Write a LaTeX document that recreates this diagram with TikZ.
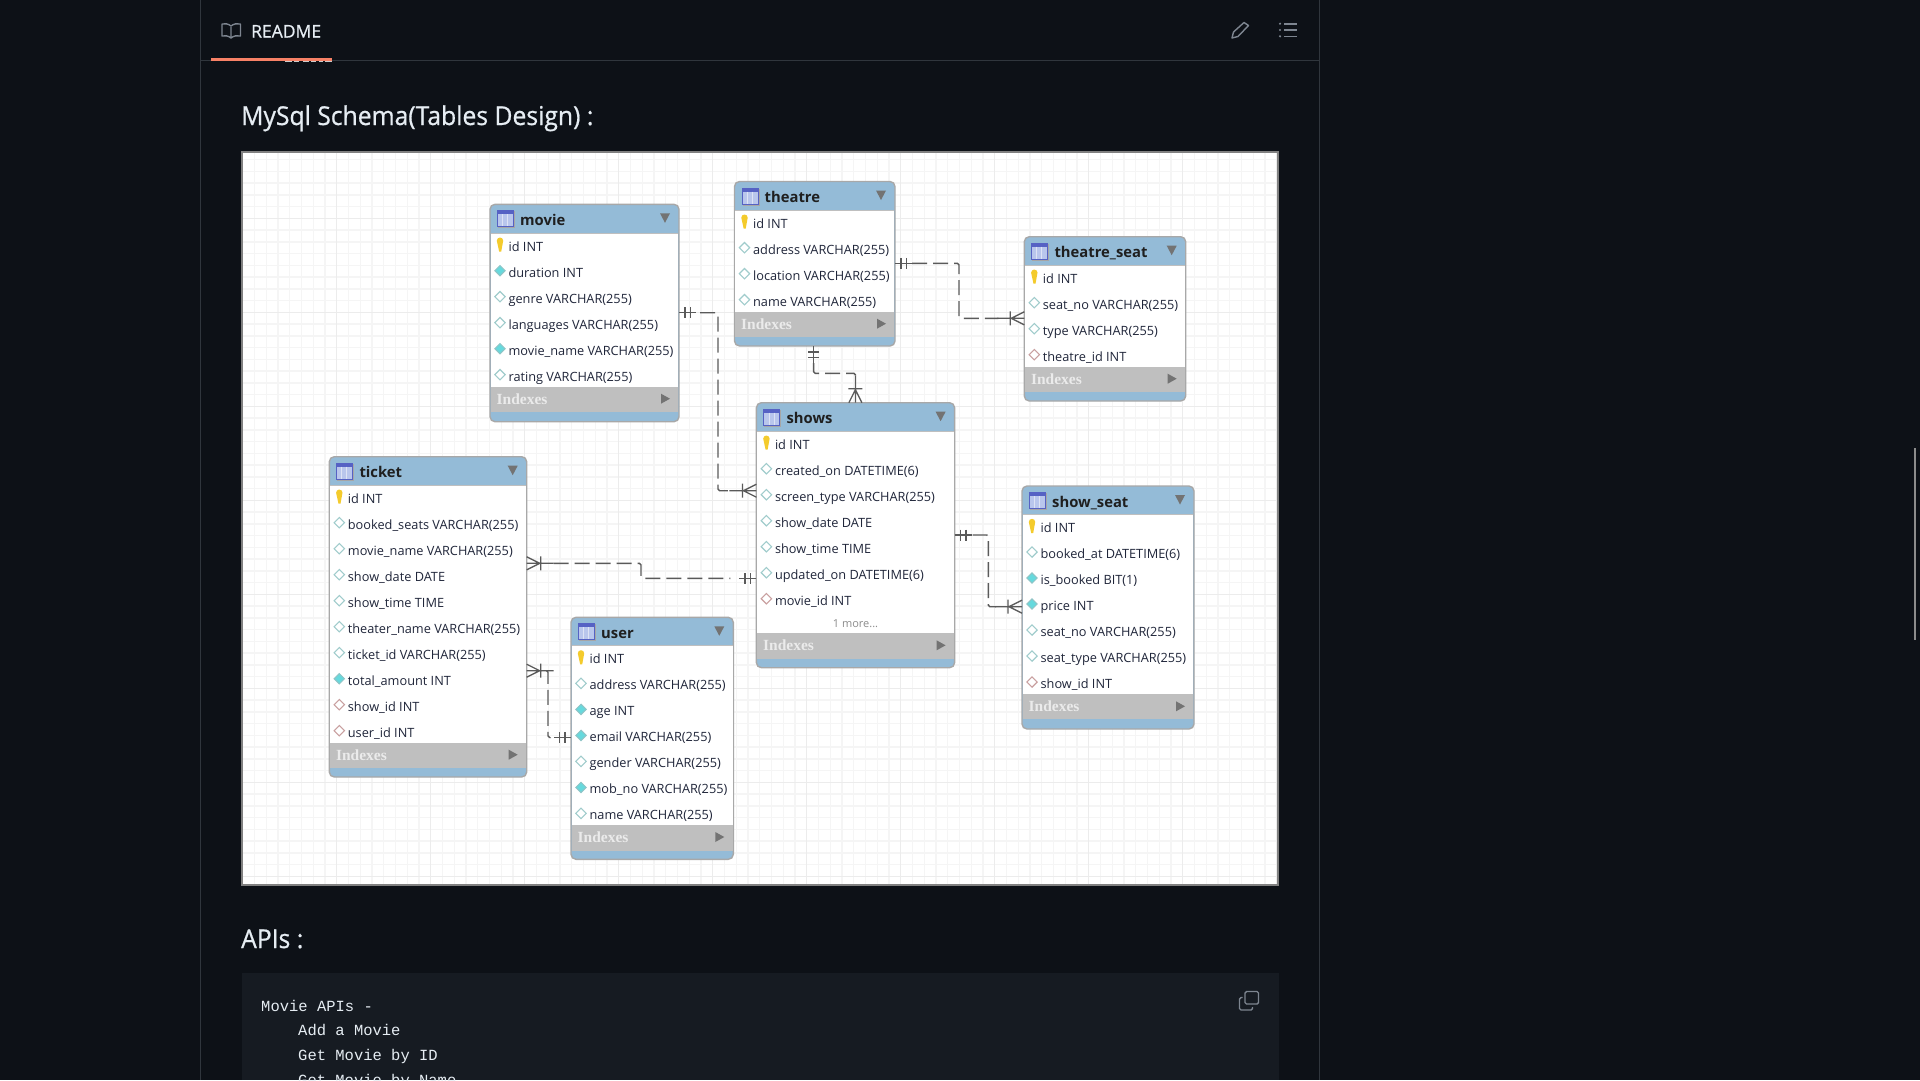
\documentclass[tikz,border=0pt]{standalone}
\usepackage{fontspec}
\usetikzlibrary{calc}
\setmainfont{Open Sans}
\newfontfamily\uifont[FakeBold=0.7]{Open Sans}
\newfontfamily\headfont[FakeBold=0.7,FakeStretch=0.95]{Open Sans}
\newfontfamily\serifb{Liberation Serif Bold}
\newfontfamily\monof{Liberation Mono}
\definecolor{pagebg}{HTML}{0D1117}
\definecolor{codebg}{HTML}{161B22}
\definecolor{rule}{HTML}{30363D}
\definecolor{accent}{HTML}{F78166}
\definecolor{ink}{HTML}{E6EDF3}
\definecolor{iconc}{HTML}{7D8590}
\definecolor{headblue}{HTML}{94BBD7}
\definecolor{frameg}{HTML}{A8A8A8}
\definecolor{idxg}{HTML}{BFBFBF}
\definecolor{rowink}{HTML}{20263A}
\definecolor{conn}{HTML}{5A5A5A}
\definecolor{dhollow}{HTML}{A0CCCC}
\definecolor{dcyan}{HTML}{66D9DD}
\definecolor{dcyanb}{HTML}{8FC4C6}
\definecolor{dred}{HTML}{C9A0A0}
\definecolor{keyy}{HTML}{F4CB2C}
\definecolor{icoframe}{HTML}{5662C4}
\definecolor{icobody}{HTML}{B9C6EC}
\definecolor{icoline}{HTML}{DDE3F5}
\tikzset{
  minorg/.style={draw=black!4,line width=1.4pt},
  majorg/.style={draw=black!7.5,line width=1.5pt},
  tbl/.style={draw=frameg,line width=1.4pt,fill=headblue,rounded corners=5pt,inner sep=0pt,outer sep=0pt},
  rowtxt/.style={anchor=base west,inner sep=0pt,text=rowink,font=\fontsize{12.75}{15}\selectfont},
  titletxt/.style={anchor=base west,inner sep=0pt,text=black!88,font=\fontsize{14.8}{18}\selectfont\bfseries},
  idxtxt/.style={anchor=base west,inner sep=0pt,text=white!92!black,font=\fontsize{15.5}{18}\serifb},
  morettxt/.style={inner sep=0pt,text=black!45,font=\fontsize{11}{13}\selectfont},
  connline/.style={draw=conn,line width=1.4pt,dash pattern=on 15pt off 6pt,rounded corners=1.5pt},
  markline/.style={draw=conn,line width=1.3pt},
  uitxt/.style={anchor=base west,inner sep=0pt,text=ink},
  codetxt/.style={anchor=base west,inner sep=0pt,text=ink,font=\fontsize{15.5}{18}\monof},
}
\def\iconw#1#2{\draw[draw=dhollow,fill=white,line width=1.1pt] (#1-5.2,#2)--(#1,#2-5.2)--(#1+5.2,#2)--(#1,#2+5.2)--cycle;}
\def\iconc#1#2{\draw[draw=dcyanb,fill=dcyan,line width=1pt] (#1-5.2,#2)--(#1,#2-5.2)--(#1+5.2,#2)--(#1,#2+5.2)--cycle;}
\def\iconr#1#2{\draw[draw=dred,fill=white,line width=1.1pt] (#1-5.2,#2)--(#1,#2-5.2)--(#1+5.2,#2)--(#1,#2+5.2)--cycle;}
\def\iconk#1#2{\fill[keyy] (#1-3.2,#2-4) arc (180:0:3.2pt) -- (#1+1.2,#2+7) -- (#1-0.8,#2+7) -- cycle;}
\def\tabico#1#2{%
  \fill[black!35] (#1+8,#2+7) rectangle (#1+25,#2+24);
  \fill[icoframe] (#1+7,#2+6) rectangle (#1+24,#2+23);
  \fill[icobody] (#1+8,#2+10) rectangle (#1+23,#2+22);
  \draw[icoline,line width=.7pt] (#1+12.5,#2+10)--(#1+12.5,#2+22) (#1+17.5,#2+10)--(#1+17.5,#2+22);
}
% name, title, x1, x2, top, headbottom, idxtop, idxbottom, bottom, rows
\newcommand\ertable[9]{%
  \pgfmathsetmacro\cxx{(#3+#4)/2}\pgfmathsetmacro\cyy{(#5+#9)/2}%
  \pgfmathsetmacro\ww{#4-#3}\pgfmathsetmacro\hh{#9-#5}%
  \node[tbl,minimum width=\ww pt,minimum height=\hh pt] (#1) at (\cxx,\cyy) {};
  \fill[white] (#3+.7,#6) rectangle (#4-.7,#7);
  \fill[idxg] (#3+.7,#7) rectangle (#4-.7,#8);
  \draw[black!25,line width=1pt] (#3+.7,#6)--(#4-.7,#6);
  \tabico{#3}{#5}
  \node[titletxt] (#1-title) at (#3+30,#5+21) {#2};
  \fill[black!55] (#4-19,#5+9)--(#4-9,#5+9)--(#4-14,#5+18.5)--cycle;
  \node[idxtxt] (#1-idx) at (#3+6.5,#7+17.5) {Indexes};
  \fill[black!55] (#4-18,#7+7)--(#4-9,#7+12)--(#4-18,#7+17)--cycle;
  \def\tn{#1}\def\tx{#3}\def\ty{#6}%
  \ertablerows
}
\newcommand\ertablerows[1]{%
  \foreach \k/\t [count=\i from 0] in {#1}{%
    \pgfmathsetmacro\rowy{\ty+13.2+26*\i}%
    \csname icon\k\endcsname{\tx+10}{\rowy-1.5}
    \node[rowtxt] (\tn-r\i) at (\tx+18.4,\rowy+4.8) {\t};
  }%
}
% one-side marking at #1, direction #2
\newcommand\oneM[2]{\begin{scope}[shift={(#1)},rotate=#2]
  \draw[markline] (0,0)--(17,0) (6,-5.5)--(6,5.5) (11.5,-5.5)--(11.5,5.5);\end{scope}}
\newcommand\manyM[2]{\begin{scope}[shift={(#1)},rotate=#2]
  \draw[markline] (0,-6.5)--(13,0)--(0,6.5) (0,0)--(27,0) (14,-7)--(14,7);\end{scope}}
\begin{document}
\begin{tikzpicture}[x=1pt,y=-1pt]
\useasboundingbox (0,0) rectangle (1920,1080);
\clip (0,0) rectangle (1920,1080);
\fill[pagebg] (0,0) rectangle (1920,1080);
% page frame
\draw[rule,line width=1pt] (200.5,0)--(200.5,1080) (1319.5,0)--(1319.5,1080) (200.5,60.5)--(1319.5,60.5);
\fill[accent] (211,58) rectangle (332,60.5);
\foreach \a/\b in {285/292,294/299,303/309,311/316,319/323,325/332}{\fill[white!80!black] (\a,60.8) rectangle (\b,62);}
% header
\draw[iconc,line width=1.4pt,line join=round] (231,27)--(231,38) .. controls (228,35.5) and (225,35.5) .. (222,36) -- (222,24) .. controls (225,23.5) and (228,23.5) .. (231,26) .. controls (234,23.5) and (237,23.5) .. (240.5,24) -- (240.5,36) .. controls (237,35.5) and (234,35.5) .. (231,38);
\node[uitxt,font=\fontsize{17.5}{20}\uifont] (readme) at (251,37.5) {README};
\draw[iconc,line width=1.4pt,line join=round] (1232,38)--(1233.5,32)--(1244,22.5)--(1248.5,25.5)--(1238,36.5)--cycle;
\foreach \yy in {23.7,30,36.3}{\fill[iconc] (1280,\yy) circle (1.2pt); \draw[iconc,line width=1.6pt] (1284,\yy)--(1297,\yy);}
\node[uitxt,font=\fontsize{26}{30}\headfont] (schema) at (241,125) {MySql Schema(Tables Design) :};
% diagram image
\fill[white] (241,151) rectangle (1279,886);
\begin{scope}
\clip (242,152) rectangle (1278,885);
\foreach \i in {0,...,88}{\pgfmathsetmacro\gx{242.7+11.75*\i}\draw[minorg] (\gx,152)--(\gx,885);}
\foreach \i in {0,...,63}{\pgfmathsetmacro\gy{159.55+11.75*\i}\draw[minorg] (242,\gy)--(1278,\gy);}
\foreach \i in {0,...,11}{\pgfmathsetmacro\gx{242.7+94*\i}\draw[majorg] (\gx,152)--(\gx,885);}
\foreach \i in {0,...,7}{\pgfmathsetmacro\gy{218.3+94*\i}\draw[majorg] (242,\gy)--(1278,\gy);}
\end{scope}
\draw[black!50!white,line width=2pt] (242,152) rectangle (1278,885);
% tables
\ertable{movie}{movie}{490}{679}{204.3}{233}{386.7}{412}{421.7}{k/id INT,c/duration INT,w/genre VARCHAR(255),w/languages VARCHAR(255),c/movie\_name VARCHAR(255),w/rating VARCHAR(255)}
\ertable{theatre}{theatre}{734.5}{895}{181.5}{210}{311.7}{336.7}{346}{k/id INT,w/address VARCHAR(255),w/location VARCHAR(255),w/name VARCHAR(255)}
\ertable{tseat}{theatre\_seat}{1024.3}{1185.7}{236.7}{265}{366.7}{391.7}{401}{k/id INT,w/seat\_no VARCHAR(255),w/type VARCHAR(255),r/theatre\_id INT}
\ertable{shows}{shows}{756.4}{954.6}{402.7}{431}{633.3}{659}{667.7}{k/id INT,w/created\_on DATETIME(6),w/screen\_type VARCHAR(255),w/show\_date DATE,w/show\_time TIME,w/updated\_on DATETIME(6),r/movie\_id INT}
\node[morettxt] (shows-more) at (855.5,623.3) {1 more...};
\ertable{sseat}{show\_seat}{1022}{1194}{486}{514.3}{694.3}{719.3}{729}{k/id INT,w/booked\_at DATETIME(6),c/is\_booked BIT(1),c/price INT,w/seat\_no VARCHAR(255),w/seat\_type VARCHAR(255),r/show\_id INT}
\ertable{ticket}{ticket}{329.3}{526.7}{456.7}{485}{742.7}{768.3}{777}{k/id INT,w/booked\_seats VARCHAR(255),w/movie\_name VARCHAR(255),w/show\_date DATE,w/show\_time TIME,w/theater\_name VARCHAR(255),w/ticket\_id VARCHAR(255),c/total\_amount INT,r/show\_id INT,r/user\_id INT}
\ertable{user}{user}{571}{733.3}{617.3}{645.7}{825}{850.7}{859.3}{k/id INT,w/address VARCHAR(255),c/age INT,c/email VARCHAR(255),w/gender VARCHAR(255),c/mob\_no VARCHAR(255),w/name VARCHAR(255)}
% connector ends
\coordinate (a1) at (movie.east |- 0,312.7);  \coordinate (b1) at (shows.west |- 0,490.7);
\coordinate (a2) at (theatre.east |- 0,263.3); \coordinate (b2) at (tseat.west |- 0,318.3);
\coordinate (a3) at (theatre.south -| 813.6,0); \coordinate (b3) at (shows.north -| 855.4,0);
\coordinate (a4) at (ticket.east |- 0,563.3); \coordinate (b4) at (shows.west |- 0,578.3);
\coordinate (a5) at (ticket.east |- 0,670.7); \coordinate (b5) at (user.west |- 0,737.3);
\coordinate (a6) at (shows.east |- 0,535);    \coordinate (b6) at (sseat.west |- 0,606.7);
% connectors
\draw[connline] ($(a1)+(21,0)$) -- (718,312.7) -- (718,490.7) -- ($(b1)+(-28,0)$);
\draw[connline] ($(a2)+(17,0)$) -- (959,263.3) -- (959,318.3) -- ($(b2)+(-26,0)$);
\draw[connline] ($(a3)+(0,17)$) -- (813.6,373.3) -- (855.4,373.3) -- ($(b3)+(0,-27)$);
\draw[connline] ($(a4)+(27,0)$) -- (641,563.3) -- (641,578.3) -- ($(b4)+(-26,0)$);
\draw[connline] ($(a5)+(21,0)$) -- (548,670.7) -- (548,737.3) -- ($(b5)+(-22,0)$);
\draw[connline] ($(a6)+(18,0)$) -- (988.3,535) -- (988.3,606.7) -- ($(b6)+(-26,0)$);
\oneM{a1}{0}\manyM{b1}{180}
\oneM{a2}{0}\manyM{b2}{180}
\oneM{a3}{-90}\manyM{b3}{90}
\manyM{a4}{0}\oneM{b4}{180}
\manyM{a5}{0}\oneM{b5}{180}
\oneM{a6}{0}\manyM{b6}{180}
% lower page
\node[uitxt,font=\fontsize{26}{30}\headfont] (apis) at (241,948) {APIs :};
\fill[codebg] (241.5,973) rectangle (1279,1080);
\node[codetxt] (c1) at (261,1011.7) {Movie APIs -};
\node[codetxt] (c2) at (298,1035.7) {Add a Movie};
\node[codetxt] (c3) at (298,1060.7) {Get Movie by ID};
\node[codetxt] (c4) at (298,1085.2) {Get Movie by Name};
\draw[iconc,line width=1.4pt,rounded corners=1.5pt] (1245,991.5) rectangle (1258.5,1004);
\draw[iconc,line width=1.4pt,rounded corners=1.5pt] (1242.5,997.5)--(1239.5,997.5)--(1239.5,1010)--(1252.5,1010)--(1252.5,1007);
% scrollbar
\fill[black!45!white] (1914,448) rectangle (1916,640);
\end{tikzpicture}
\end{document}
